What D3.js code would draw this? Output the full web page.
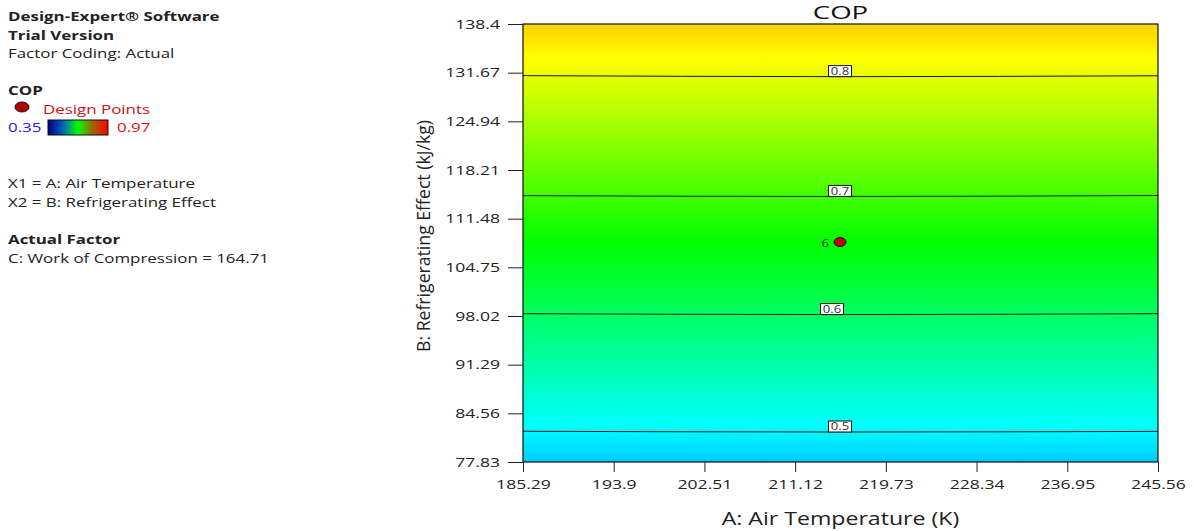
<!DOCTYPE html>
<html>
<head>
<meta charset="utf-8">
<script src="https://cdn.jsdelivr.net/npm/d3@7"></script>
<style>
  body { margin: 0; background: #fff; }
  svg { display: block; font-family: "Open Sans", "Noto Sans", sans-serif; }
</style>
</head>
<body>
<svg id="chart" width="1194" height="531"></svg>
<script>
// axis ticks
const xTicks = [185.29, 193.9, 202.51, 211.12, 219.73, 228.34, 236.95, 245.56];
const yTicks = [77.83, 84.56, 91.29, 98.02, 104.75, 111.48, 118.21, 124.94, 131.67, 138.4];

// contour levels and their B position at three A samples (left, middle, right)
const contourA = [185.29, 215.42, 245.56];
const levels = [0.5, 0.6, 0.7, 0.8];
const levelB = [
  [82.08, 81.98, 82.06],
  [98.34, 98.22, 98.34],
  [114.66, 114.55, 114.68],
  [131.26, 131.12, 131.24]
];
const labelA = [215.38, 214.62, 215.38, 215.38];

// COP at the bottom and top edge of the plot
const edgeCOP = [0.47, 0.842];

// design point
const pointA = [215.38];
const pointB = [108.25];
const pointRun = ['6'];

// colour ramp anchors
const rampCOP = [0.35, 0.505, 0.66, 0.815, 0.97];
const rampColor = ['#0000ff', '#00ffff', '#00ff00', '#ffff00', '#ff0000'];

const margin = { top: 24, left: 523, width: 635, height: 438 };
const STRETCH = 1.3; // the original text is drawn wider than normal

const svg = d3.select('#chart');

// widen each text horizontally, keeping its anchor
function stretch(sel, k = STRETCH) {
  sel.each(function () {
    const w = this.getComputedTextLength();
    d3.select(this).attr('textLength', w * k).attr('lengthAdjust', 'spacingAndGlyphs');
  });
}

const x = d3.scaleLinear().domain([xTicks[0], xTicks[xTicks.length - 1]])
  .range([margin.left, margin.left + margin.width]);
const y = d3.scaleLinear().domain([yTicks[0], yTicks[yTicks.length - 1]])
  .range([margin.top + margin.height, margin.top]);
const color = d3.scaleLinear().domain(rampCOP).range(rampColor);

// COP -> B, using the middle of each contour
const copToB = d3.scaleLinear()
  .domain(levels)
  .range(levelB.map(r => r[1]));

// vertical gradient fill
const defs = svg.append('defs');
const grad = defs.append('linearGradient')
  .attr('id', 'fill')
  .attr('gradientUnits', 'userSpaceOnUse')
  .attr('x1', 0).attr('x2', 0)
  .attr('y1', y.range()[0]).attr('y2', y.range()[1]);
const stopCOP = d3.range(edgeCOP[0], edgeCOP[1] + 0.0001, 0.01)
  .concat(rampCOP.filter(v => v > edgeCOP[0] && v < edgeCOP[1]))
  .sort(d3.ascending);
const yLo = y.range()[0], yHi = y.range()[1];
stopCOP.forEach(c => {
  const py = y(copToB(c));
  const off = Math.max(0, Math.min(1, (yLo - py) / (yLo - yHi)));
  grad.append('stop').attr('offset', off).attr('stop-color', color(c));
});

svg.append('rect')
  .attr('x', margin.left).attr('y', margin.top)
  .attr('width', margin.width).attr('height', margin.height)
  .attr('fill', 'url(#fill)');

// contour lines
const line = d3.line().x(d => x(d[0])).y(d => y(d[1])).curve(d3.curveNatural);
svg.append('g').selectAll('path')
  .data(levelB)
  .join('path')
  .attr('d', row => line(row.map((b, i) => [contourA[i], b])))
  .attr('fill', 'none')
  .attr('stroke', '#1a1a1a')
  .attr('stroke-width', 1);

// contour labels
const lab = svg.append('g').selectAll('g')
  .data(levels)
  .join('g')
  .attr('transform', (d, i) => `translate(${x(labelA[i])},${y(levelB[i][1])})`);
lab.append('rect')
  .attr('x', -11.5).attr('y', -11).attr('width', 23).attr('height', 11)
  .attr('fill', '#fff').attr('stroke', '#111').attr('stroke-width', 1);
lab.append('text')
  .attr('text-anchor', 'middle').attr('y', -1.5)
  .attr('font-size', 10.5).attr('fill', '#333')
  .text(d => d)
  .call(stretch, 1.25);

// design point
svg.append('g').selectAll('ellipse')
  .data(pointA)
  .join('ellipse')
  .attr('cx', d => x(d)).attr('cy', (d, i) => y(pointB[i]))
  .attr('rx', 6).attr('ry', 4.5)
  .attr('fill', '#c00000').attr('stroke', '#111').attr('stroke-width', 1);
svg.append('g').selectAll('text')
  .data(pointRun)
  .join('text')
  .attr('x', (d, i) => x(pointA[i]) - 11).attr('y', (d, i) => y(pointB[i]) + 5)
  .attr('text-anchor', 'end')
  .attr('font-size', 10.5).attr('fill', '#333')
  .text(d => d)
  .call(stretch, 1.25);

// frame
svg.append('rect')
  .attr('x', margin.left).attr('y', margin.top)
  .attr('width', margin.width).attr('height', margin.height)
  .attr('fill', 'none').attr('stroke', '#111').attr('stroke-width', 1.2);

// axes
const xAxis = svg.append('g')
  .attr('transform', `translate(0,${margin.top + margin.height})`)
  .call(d3.axisBottom(x).tickValues(xTicks).tickFormat(d => d).tickSize(10).tickPadding(7).tickSizeOuter(0));
const yAxis = svg.append('g')
  .attr('transform', `translate(${margin.left},0)`)
  .call(d3.axisLeft(y).tickValues(yTicks).tickFormat(d => d).tickSize(15).tickPadding(8).tickSizeOuter(0));
[xAxis, yAxis].forEach(a => {
  a.select('.domain').remove();
  a.selectAll('line').attr('stroke', '#222');
  a.selectAll('text').attr('font-size', 13.5).attr('fill', '#222')
    .attr('font-family', '"Open Sans", "Noto Sans", sans-serif')
    .call(stretch);
});

// titles
svg.append('text')
  .attr('x', margin.left + margin.width / 2).attr('y', 19)
  .attr('text-anchor', 'middle').attr('font-size', 19).attr('fill', '#111')
  .text('COP')
  .call(stretch, 1.45);
svg.append('text')
  .attr('x', margin.left + margin.width / 2).attr('y', 525)
  .attr('text-anchor', 'middle').attr('font-size', 17.5).attr('fill', '#222')
  .text('A: Air Temperature (K)')
  .call(stretch, 1.32);
svg.append('text')
  .attr('transform', 'translate(430,236) rotate(-90)')
  .attr('text-anchor', 'middle').attr('font-size', 19).attr('fill', '#222')
  .attr('textLength', 232).attr('lengthAdjust', 'spacingAndGlyphs')
  .text('B: Refrigerating Effect (kJ/kg)');

// info panel on the left
const info = svg.append('g').attr('font-size', 13).attr('fill', '#222');
info.append('text').attr('x', 8).attr('y', 21).attr('font-weight', 'bold').text('Design-Expert® Software');
info.append('text').attr('x', 8).attr('y', 40).attr('font-weight', 'bold').text('Trial Version');
info.append('text').attr('x', 8).attr('y', 58).text('Factor Coding: Actual');
info.append('text').attr('x', 8).attr('y', 95).attr('font-weight', 'bold').text('COP');
info.append('ellipse').attr('cx', 22).attr('cy', 107).attr('rx', 7).attr('ry', 5)
  .attr('fill', '#b00000').attr('stroke', '#111');
info.append('text').attr('x', 43).attr('y', 114).attr('fill', '#d01010').text('Design Points');
info.append('text').attr('x', 8).attr('y', 132).attr('fill', '#2020ff').text(d3.min(rampCOP));
const legGrad = defs.append('linearGradient').attr('id', 'leg');
rampCOP.forEach((c, i) => {
  legGrad.append('stop').attr('offset', i / (rampCOP.length - 1))
    .attr('stop-color', ['#000080', '#0060c0', '#00ff00', '#a06000', '#ff0000'][i]);
});
info.append('rect').attr('x', 48).attr('y', 120).attr('width', 60).attr('height', 15)
  .attr('fill', 'url(#leg)').attr('stroke', '#111').attr('stroke-width', 1);
info.append('text').attr('x', 117).attr('y', 132).attr('fill', '#e01010').text(d3.max(rampCOP));
info.append('text').attr('x', 8).attr('y', 188).text('X1 = A: Air Temperature');
info.append('text').attr('x', 8).attr('y', 207).text('X2 = B: Refrigerating Effect');
info.append('text').attr('x', 8).attr('y', 244).attr('font-weight', 'bold').text('Actual Factor');
info.append('text').attr('x', 8).attr('y', 263).text('C: Work of Compression = 164.71');
info.selectAll('text').call(stretch);
</script>
</body>
</html>
